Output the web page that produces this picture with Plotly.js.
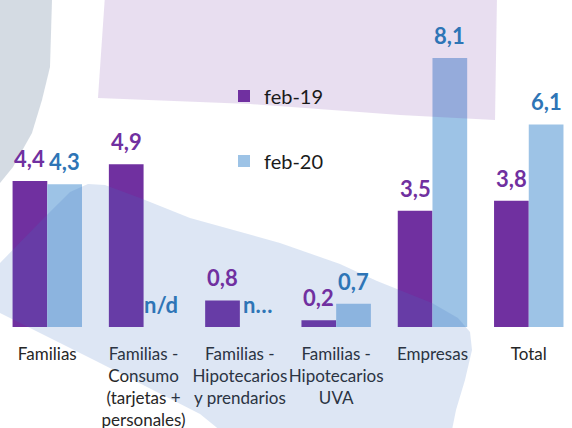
<!DOCTYPE html>
<html><head><meta charset="utf-8">
<script src="https://cdn.plot.ly/plotly-3.0.1.min.js"></script>
<style>html,body{margin:0;padding:0;background:#fff}#chart{width:572px;height:428px}</style>
</head><body><div id="chart"></div>
<script>
// ---- data ----
const categories = ["Familias",
  "Familias -<br>Consumo<br>(tarjetas +<br>personales)",
  "Familias -<br>Hipotecarios<br>y prendarios",
  "Familias -<br>Hipotecarios<br>UVA",
  "Empresas",
  "Total"];
const feb19 = [4.4, 4.9, 0.8, 0.2, 3.5, 3.8];
const feb20 = [4.3, null, null, 0.7, 8.1, 6.1];   // null = n/d
const feb19Labels = ["4,4", "4,9", "0,8", "0,2", "3,5", "3,8"];
const feb20Labels = ["4,3", "n/d", "n…", "0,7", "8,1", "6,1"];
const seriesNames = ["feb-19", "feb-20"];

// ---- styling ----
const W = 572, H = 428, MB = 101, PH = H - MB;
const FONT = 'Lato, "Open Sans", sans-serif';
const PURPLE = '#7030A0', LBLUE = '#9DC3E6', DBLUE = '#2E75B6';
const BARGAP = 0.279;

function pxPath(pts) {
  return pts.map((p, i) => (i ? 'L' : 'M') + (p[0] / W).toFixed(4) + ',' + (1 - p[1] / PH).toFixed(4)).join(' ') + ' Z';
}
const grayShape = [[-5,-5],[52,-5],[52,0],[50,67],[42,100],[32,133],[13,167],[0,183],[-5,186]];
const lavShape = [[105,-5],[497,-5],[495,120],[400,115],[250,104],[98,98]];
const blobShape = [[-30,288],[0,263],[40,222],[70,192],[88,184],[105,185],[140,198],[190,218],[280,243],[340,264],[377,281],[432,303],[458,318],[470,332],[472,350],[465,380],[456,410],[450,440],[232,440],[200,414],[100,363],[0,313],[-30,300]];

const f20 = feb20.map(v => v === null ? 0 : v);

const traces = [
  {type:'bar', name: seriesNames[0], x: categories, y: feb19, marker:{color: PURPLE},
   hoverinfo:'skip', legend:'legend'},
  {type:'bar', name: seriesNames[1], x: categories, y: f20, marker:{color: LBLUE},
   hoverinfo:'skip', legend:'legend2'}
];

// value labels placed at each bar's top through the axes' own scales
const off = (1 - BARGAP) / 4;
const annotations = [];
categories.forEach((c, i) => {
  annotations.push({xref:'x', yref:'y', x: i - off, y: feb19[i], text: feb19Labels[i], showarrow:false,
    yanchor:'bottom', xanchor:'center', yshift: 7, font:{family: FONT, size: 22, color: PURPLE, weight:'bold'}});
  annotations.push({xref:'x', yref:'y', x: i + off, y: f20[i], text: feb20Labels[i], showarrow:false,
    yanchor:'bottom', xanchor:'center', yshift: 7, font:{family: FONT, size: 22, color: DBLUE, weight:'bold'}});
});

const legendCommon = {xanchor:'left', yanchor:'middle', bgcolor:'rgba(0,0,0,0)', borderwidth:0,
  font:{family: FONT, size: 20, color:'#1a1a1a'}};

const layout = {
  width: W, height: H,
  margin: {l:0, r:0, t:0, b:MB, pad:0},
  paper_bgcolor:'#fff', plot_bgcolor:'rgba(0,0,0,0)',
  barmode:'group', bargap: BARGAP, bargroupgap: 0,
  showlegend: true,
  legend: Object.assign({x: 224/W, y: 1 - 96/PH}, legendCommon),
  legend2: Object.assign({x: 224/W, y: 1 - 161/PH}, legendCommon),
  xaxis: {type:'category', range:[-0.491, 5.449], showgrid:false, zeroline:false, showline:false,
    ticks:'', tickangle:0, automargin:false, ticklabelstandoff: 15,
    tickfont:{family: FONT, size: 17, color:'#262626'}, fixedrange:true},
  yaxis: {range:[0, PH/33.2], visible:false, fixedrange:true},
  annotations: annotations,
  shapes: [
    {type:'path', xref:'paper', yref:'paper', path: pxPath(grayShape), fillcolor:'rgba(132,151,176,0.35)', line:{width:0}, layer:'above'},
    {type:'path', xref:'paper', yref:'paper', path: pxPath(lavShape), fillcolor:'rgba(112,48,160,0.16)', line:{width:0}, layer:'above'},
    {type:'path', xref:'paper', yref:'paper', path: pxPath(blobShape), fillcolor:'rgba(68,114,196,0.18)', line:{width:0}, layer:'above'}
  ]
};

Plotly.newPlot('chart', traces, layout, {displayModeBar:false, staticPlot:true});
</script>
</body></html>
